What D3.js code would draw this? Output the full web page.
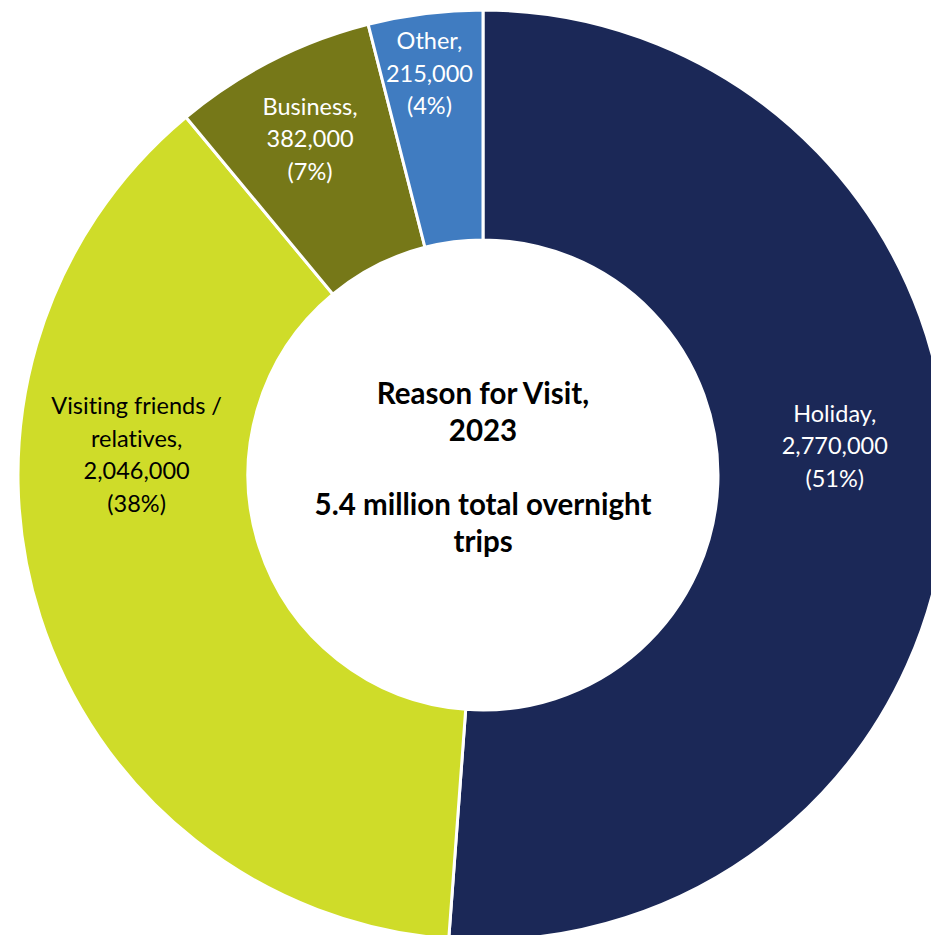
<!DOCTYPE html>
<html>
<head>
<meta charset="utf-8">
<script src="https://cdn.jsdelivr.net/npm/d3@7"></script>
<style>
  html, body { margin: 0; padding: 0; background: #fff; }
  svg { display: block; }
  text { font-variant-ligatures: none; }
</style>
</head>
<body>
<svg width="931" height="935"></svg>
<script>
// data
var reasons = ["Holiday", "Visiting friends / relatives", "Business", "Other"];
var trips = [2770000, 2046000, 382000, 215000];
var shares = [51, 38, 7, 4];
var labelLines = [
  ["Holiday,", "2,770,000", "(51%)"],
  ["Visiting friends /", "relatives,", "2,046,000", "(38%)"],
  ["Business,", "382,000", "(7%)"],
  ["Other,", "215,000", "(4%)"]
];
var titleLines = ["Reason for Visit,", "2023", "", "5.4 million total overnight", "trips"];

var sliceColors = ["#1b2857", "#cfdc29", "#767818", "#407cc1"];
var labelColors = ["#ffffff", "#000000", "#ffffff", "#ffffff"];

var svg = d3.select("svg");
var cx = 483, cy = 475, outerR = 465, innerR = 235;

var g = svg.append("g").attr("transform", "translate(" + cx + "," + cy + ")");

var pie = d3.pie().sort(null).value(function(d) { return d; });
var arcs = pie(trips);

var arc = d3.arc().innerRadius(innerR).outerRadius(outerR);
var labelArc = d3.arc().innerRadius(350).outerRadius(350);

g.selectAll("path.slice")
  .data(arcs)
  .enter().append("path")
  .attr("class", "slice")
  .attr("d", arc)
  .attr("fill", function(d, i) { return sliceColors[i]; })
  .attr("stroke", "#fff")
  .attr("stroke-width", 3)
  .attr("stroke-linejoin", "miter");

// excel style label nudges, relative to the centroid
var nudge = [[2, -42], [-13, -127], [-14, -24], [-10, -54]];
var lineH = 32.5;

var labels = g.selectAll("text.lbl")
  .data(arcs)
  .enter().append("text")
  .attr("class", "lbl")
  .attr("text-anchor", "middle")
  .attr("font-family", "Lato, 'Open Sans', sans-serif")
  .attr("font-size", 23.5)
  .attr("fill", function(d, i) { return labelColors[i]; })
  .attr("transform", function(d, i) {
    var c = labelArc.centroid(d);
    return "translate(" + (c[0] + nudge[i][0]) + "," + (c[1] + nudge[i][1]) + ")";
  });

labels.each(function(d, i) {
  var lines = labelLines[i];
  var off = -(lines.length - 1) / 2 * lineH;
  d3.select(this).selectAll("tspan")
    .data(lines)
    .enter().append("tspan")
    .attr("x", 0)
    .attr("y", function(t, j) { return off + j * lineH; })
    .attr("dy", "0.35em")
    .text(function(t) { return t; });
});

// centre title (baselines)
var titleH = 37;
g.append("text")
  .attr("text-anchor", "middle")
  .attr("font-family", "Lato, 'Open Sans', sans-serif")
  .attr("font-weight", "bold")
  .attr("font-size", 29.5)
  .attr("fill", "#000")
  .selectAll("tspan")
  .data(titleLines)
  .enter().append("tspan")
  .attr("x", 0)
  .attr("y", function(t, j) { return (j - 2) * titleH + 3; })
  .text(function(t) { return t; });
</script>
</body>
</html>
